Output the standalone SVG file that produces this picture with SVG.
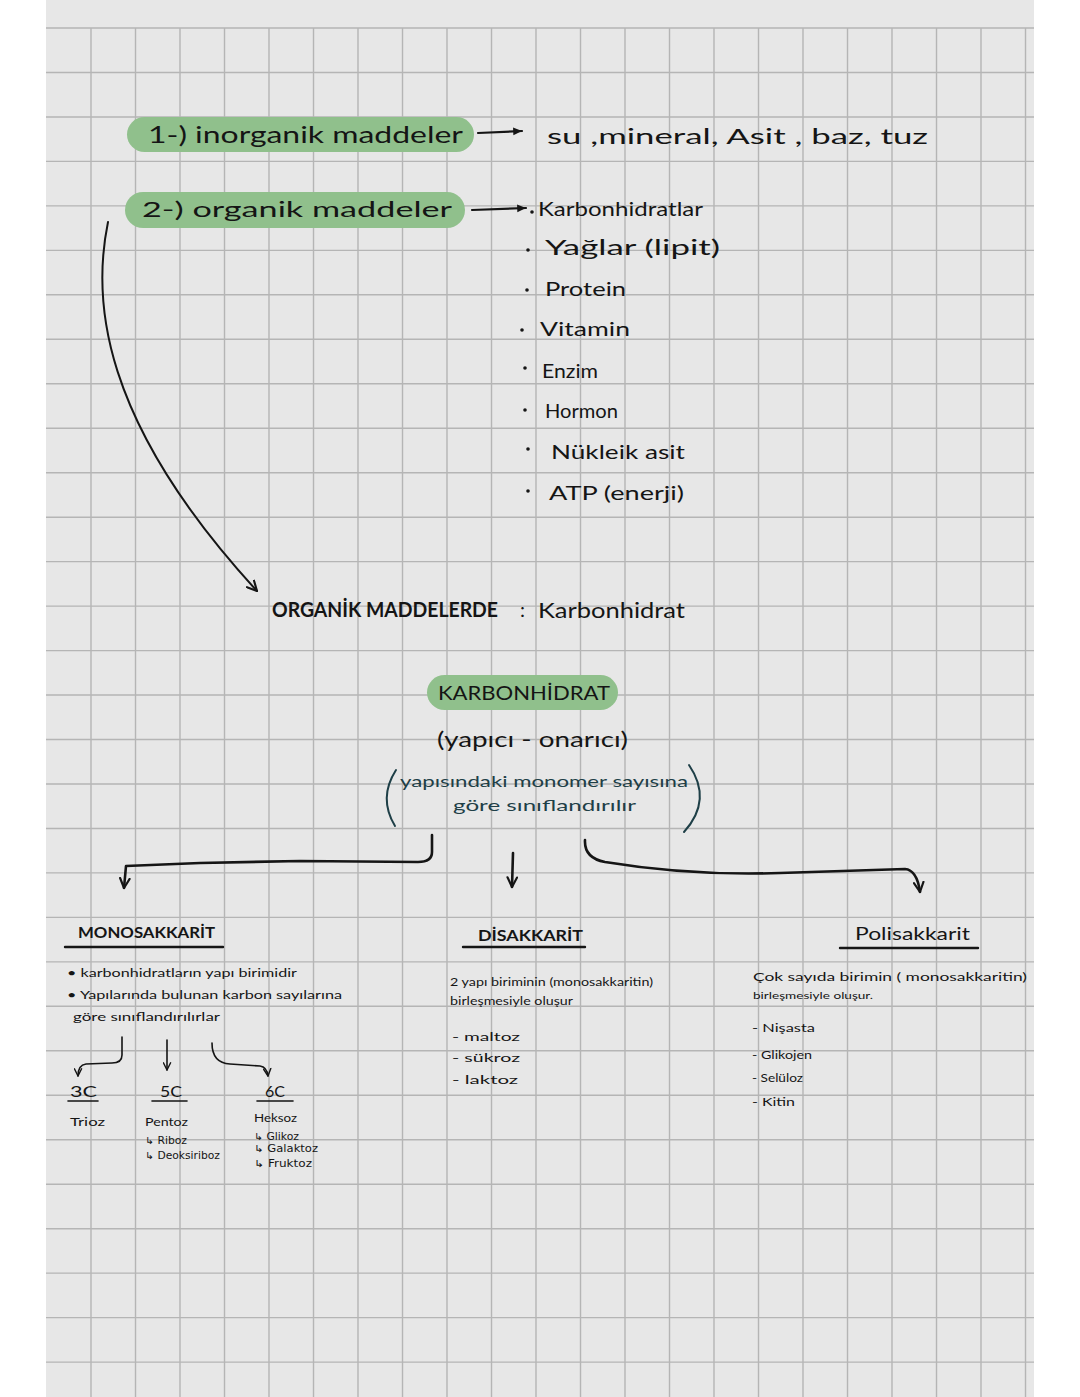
<svg xmlns="http://www.w3.org/2000/svg" width="1080" height="1397" viewBox="0 0 1080 1397">
<style>
.t{font-family:"Lato","Open Sans","DejaVu Sans",sans-serif;fill:#151515}
.h{font-family:"DejaVu Sans","Lato",sans-serif;fill:#151515}
.teal{fill:#1e3f47}
.ln{fill:none;stroke:#151515;stroke-linecap:round;stroke-linejoin:round}
.pill{fill:#90c08c}
</style>
<defs>
<marker id="ah" viewBox="0 0 10 10" refX="9" refY="5" markerWidth="12" markerHeight="12" markerUnits="userSpaceOnUse" orient="auto">
<path d="M1,1 L9,5 L1,9" fill="none" stroke="#151515" stroke-width="1.8" stroke-linecap="round" stroke-linejoin="round"/>
</marker>
<marker id="ahs" viewBox="0 0 10 10" refX="9" refY="5" markerWidth="9" markerHeight="9" markerUnits="userSpaceOnUse" orient="auto">
<path d="M1,1 L9,5 L1,9" fill="none" stroke="#151515" stroke-width="1.6" stroke-linecap="round" stroke-linejoin="round"/>
</marker>
<marker id="ahf" viewBox="0 0 10 10" refX="9" refY="5" markerWidth="11" markerHeight="11" markerUnits="userSpaceOnUse" orient="auto">
<path d="M1,1.5 L9,5 L1,8.5 Z" fill="#151515"/>
</marker>
</defs>
<rect x="0" y="0" width="1080" height="1397" fill="#ffffff"/>
<rect x="46" y="0" width="988" height="1397" fill="#e7e7e7"/>
<path fill="none" stroke="#b5b5b5" stroke-width="1.4" d="M91 28V1397M135.5 28V1397M180 28V1397M224.5 28V1397M269 28V1397M313.5 28V1397M358 28V1397M402.5 28V1397M447 28V1397M491.5 28V1397M536 28V1397M580.5 28V1397M625 28V1397M669.5 28V1397M714 28V1397M758.5 28V1397M803 28V1397M847.5 28V1397M892 28V1397M936.5 28V1397M981 28V1397M1025.5 28V1397
M46 28H1034M46 72.5H1034M46 117H1034M46 161.4H1034M46 205.9H1034M46 250.4H1034M46 294.8H1034M46 339.3H1034M46 383.8H1034M46 428.2H1034M46 472.7H1034M46 517.2H1034M46 561.6H1034M46 606.1H1034M46 650.6H1034M46 695H1034M46 739.5H1034M46 784H1034M46 828.5H1034M46 872.9H1034M46 917.4H1034M46 961.9H1034M46 1006.3H1034M46 1050.8H1034M46 1095.3H1034M46 1139.7H1034M46 1184.2H1034M46 1228.7H1034M46 1273.1H1034M46 1317.6H1034M46 1362.1H1034"/>

<g id="connectors">
<path class="ln" stroke-width="2.2" d="M478 133 L522 131" marker-end="url(#ahf)"/>
<path class="ln" stroke-width="2.2" d="M472 210 L526 208" marker-end="url(#ahf)"/>
<path class="ln" stroke-width="2" d="M108 222 C 92 300, 100 420, 257 591" marker-end="url(#ah)"/>
<path class="ln" stroke-width="2.6" d="M432 835 L432 852 Q432 862 418 862 L300 861 L200 863 L126 866 L124 888" marker-end="url(#ah)"/>
<path class="ln" stroke-width="2.6" d="M513 853 L512 887" marker-end="url(#ah)"/>
<path class="ln" stroke-width="2.6" d="M585 840 Q584 858 605 862 Q690 876 780 873 L905 869 Q917 870 920 892" marker-end="url(#ah)"/>
<path class="ln" stroke-width="1.6" d="M122 1037 L122 1055 Q122 1063 112 1063 L86 1064 Q78 1065 78 1076" marker-end="url(#ahs)"/>
<path class="ln" stroke-width="1.6" d="M167 1040 L167 1070" marker-end="url(#ahs)"/>
<path class="ln" stroke-width="1.6" d="M212 1043 Q212 1063 230 1064 L260 1066 Q267 1067 268 1076" marker-end="url(#ahs)"/>
</g>

<g id="inorganik">
<rect class="pill" x="127" y="117" width="347" height="35" rx="17.5"/>
<text class="t" x="148" y="143" font-size="23" textLength="315" lengthAdjust="spacingAndGlyphs">1-)  inorganik   maddeler</text>
</g>
<g id="inorganik-list">
<text class="t" x="547" y="144" font-size="22" textLength="381" lengthAdjust="spacingAndGlyphs">su ,mineral,  Asit , baz,  tuz</text>
</g>

<g id="organik">
<rect class="pill" x="125" y="192" width="340" height="36" rx="18"/>
<text class="t" x="142" y="217" font-size="22" textLength="310" lengthAdjust="spacingAndGlyphs">2-)  organik    maddeler</text>
</g>

<g id="organik-list">
<circle cx="532" cy="212" r="1.8" fill="#151515"/>
<text class="t" x="538" y="216" font-size="19" textLength="165" lengthAdjust="spacingAndGlyphs">Karbonhidratlar</text>
<circle cx="528" cy="250" r="1.8" fill="#151515"/>
<text class="t" x="545" y="255" font-size="21" textLength="175" lengthAdjust="spacingAndGlyphs">Yağlar   (lipit)</text>
<circle cx="527" cy="290" r="1.8" fill="#151515"/>
<text class="t" x="545" y="296" font-size="20" textLength="81" lengthAdjust="spacingAndGlyphs">Protein</text>
<circle cx="522" cy="330" r="1.8" fill="#151515"/>
<text class="t" x="540" y="336" font-size="20" textLength="90" lengthAdjust="spacingAndGlyphs">Vitamin</text>
<circle cx="525" cy="368" r="1.8" fill="#151515"/>
<text class="t" x="542" y="378" font-size="20" textLength="56" lengthAdjust="spacingAndGlyphs">Enzim</text>
<circle cx="525" cy="410" r="1.8" fill="#151515"/>
<text class="t" x="545" y="418" font-size="19" textLength="73" lengthAdjust="spacingAndGlyphs">Hormon</text>
<circle cx="528" cy="449" r="1.8" fill="#151515"/>
<text class="t" x="551" y="459" font-size="19" textLength="134" lengthAdjust="spacingAndGlyphs">Nükleik   asit</text>
<circle cx="528" cy="491" r="1.8" fill="#151515"/>
<text class="t" x="549" y="500" font-size="20" textLength="135" lengthAdjust="spacingAndGlyphs">ATP  (enerji)</text>
</g>

<g id="organik-maddelerde">
<text class="t" x="272" y="617" font-size="20" font-weight="bold" textLength="226" lengthAdjust="spacingAndGlyphs">ORGANİK  MADDELERDE</text>
<text class="t" x="520" y="617" font-size="20">:</text>
<text class="t" x="538" y="618" font-size="21" textLength="147" lengthAdjust="spacingAndGlyphs">Karbonhidrat</text>
</g>

<g id="karbonhidrat">
<rect class="pill" x="427" y="675" width="191" height="35" rx="17.5"/>
<text class="t" x="438" y="700" font-size="19" textLength="172" lengthAdjust="spacingAndGlyphs">KARBONHİDRAT</text>
<text class="t" x="437" y="747" font-size="21" textLength="191" lengthAdjust="spacingAndGlyphs">(yapıcı  -  onarıcı)</text>
<path fill="none" stroke="#1e3f47" stroke-width="2" stroke-linecap="round" d="M396 770 Q378 798 395 826"/>
<path fill="none" stroke="#1e3f47" stroke-width="2" stroke-linecap="round" d="M689 765 Q713 800 684 832"/>
<text class="t teal" x="400" y="787" font-size="16" textLength="288" lengthAdjust="spacingAndGlyphs">yapısındaki  monomer  sayısına</text>
<text class="t teal" x="453" y="811" font-size="16" textLength="183" lengthAdjust="spacingAndGlyphs">göre  sınıflandırılır</text>
</g>

<g id="monosakkarit">
<text class="t" x="78" y="938" font-size="15" font-weight="bold" textLength="137" lengthAdjust="spacingAndGlyphs">MONOSAKKARİT</text>
<path class="ln" stroke-width="2.4" d="M65 947 H223"/>
<text class="t" x="67" y="977" font-size="12" textLength="230" lengthAdjust="spacingAndGlyphs">• karbonhidratların  yapı  birimidir</text>
<text class="t" x="67" y="999" font-size="12" textLength="275" lengthAdjust="spacingAndGlyphs">• Yapılarında  bulunan  karbon  sayılarına</text>
<text class="t" x="73" y="1021" font-size="12" textLength="147" lengthAdjust="spacingAndGlyphs">göre  sınıflandırılırlar</text>
</g>
<g id="c3">
<text class="t" x="70" y="1097" font-size="15" textLength="27" lengthAdjust="spacingAndGlyphs">3C</text>
<path class="ln" stroke-width="1.6" d="M68 1101 H98"/>
<text class="t" x="70" y="1126" font-size="11" textLength="35" lengthAdjust="spacingAndGlyphs">Trioz</text>
</g>
<g id="c5">
<text class="t" x="160" y="1097" font-size="15" textLength="22" lengthAdjust="spacingAndGlyphs">5C</text>
<path class="ln" stroke-width="1.6" d="M152 1101 H187"/>
<text class="t" x="145" y="1126" font-size="11" textLength="43" lengthAdjust="spacingAndGlyphs">Pentoz</text>
<text class="h" x="145" y="1144" font-size="10" textLength="42" lengthAdjust="spacingAndGlyphs">↳ Riboz</text>
<text class="h" x="145" y="1159" font-size="10" textLength="75" lengthAdjust="spacingAndGlyphs">↳ Deoksiriboz</text>
</g>
<g id="c6">
<text class="t" x="265" y="1097" font-size="15" textLength="20" lengthAdjust="spacingAndGlyphs">6C</text>
<path class="ln" stroke-width="1.6" d="M257 1101 H293"/>
<text class="t" x="254" y="1122" font-size="11" textLength="43" lengthAdjust="spacingAndGlyphs">Heksoz</text>
<text class="h" x="254" y="1140" font-size="10" textLength="45" lengthAdjust="spacingAndGlyphs">↳ Glikoz</text>
<text class="h" x="254" y="1152" font-size="10" textLength="64" lengthAdjust="spacingAndGlyphs">↳   Galaktoz</text>
<text class="h" x="254" y="1167" font-size="10" textLength="58" lengthAdjust="spacingAndGlyphs">↳ Fruktoz</text>
</g>

<g id="disakkarit">
<text class="t" x="478" y="941" font-size="15" font-weight="bold" textLength="105" lengthAdjust="spacingAndGlyphs">DİSAKKARİT</text>
<path class="ln" stroke-width="2.4" d="M463 947 H585"/>
<text class="t" x="450" y="986" font-size="11" textLength="203" lengthAdjust="spacingAndGlyphs">2  yapı  biriminin  (monosakkaritin)</text>
<text class="t" x="450" y="1005" font-size="11" textLength="123" lengthAdjust="spacingAndGlyphs">birleşmesiyle  oluşur</text>
<text class="t" x="452" y="1041" font-size="11" textLength="68" lengthAdjust="spacingAndGlyphs">-  maltoz</text>
<text class="t" x="452" y="1062" font-size="11" textLength="68" lengthAdjust="spacingAndGlyphs">-   sükroz</text>
<text class="t" x="452" y="1084" font-size="11" textLength="66" lengthAdjust="spacingAndGlyphs">-  laktoz</text>
</g>

<g id="polisakkarit">
<text class="t" x="855" y="940" font-size="17" textLength="115" lengthAdjust="spacingAndGlyphs">Polisakkarit</text>
<path class="ln" stroke-width="2.4" d="M840 948 H978"/>
<text class="t" x="753" y="981" font-size="11" textLength="274" lengthAdjust="spacingAndGlyphs">Çok  sayıda  birimin  ( monosakkaritin)</text>
<text class="t" x="753" y="999" font-size="10" textLength="120" lengthAdjust="spacingAndGlyphs">birleşmesiyle  oluşur.</text>
<text class="t" x="752" y="1032" font-size="11" textLength="63" lengthAdjust="spacingAndGlyphs">- Nişasta</text>
<text class="t" x="752" y="1059" font-size="11" textLength="60" lengthAdjust="spacingAndGlyphs">- Glikojen</text>
<text class="t" x="752" y="1082" font-size="11" textLength="51" lengthAdjust="spacingAndGlyphs">- Selüloz</text>
<text class="t" x="752" y="1106" font-size="11" textLength="43" lengthAdjust="spacingAndGlyphs">- Kitin</text>
</g>
</svg>
